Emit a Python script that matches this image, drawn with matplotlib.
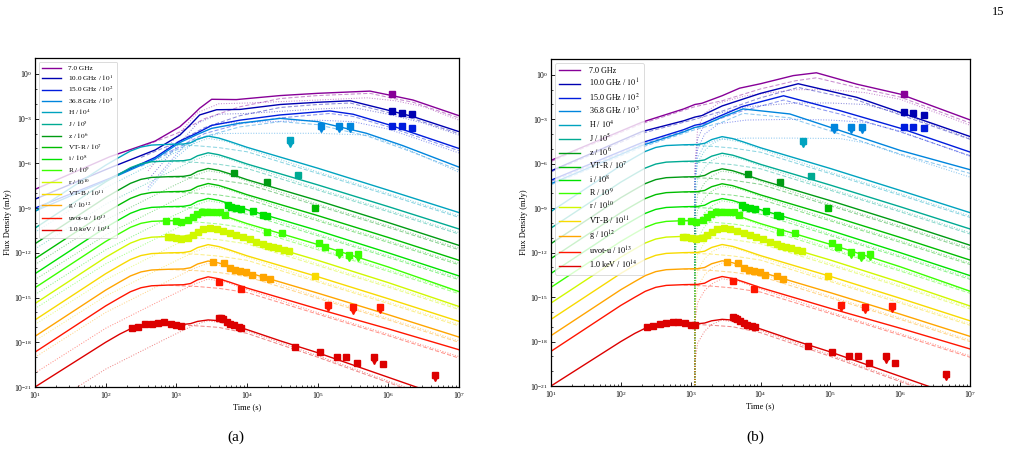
import numpy as np
import matplotlib
matplotlib.use('Agg')
import matplotlib.pyplot as plt
from matplotlib.transforms import ScaledTranslation
from matplotlib.ticker import NullFormatter, FixedLocator

plt.rcParams['font.family'] = ['Liberation Serif', 'DejaVu Serif']
plt.rcParams['mathtext.fontset'] = 'stix'

# ---------------- legend labels / band keys ----------------
band_keys = ['7.0', '10.0', '15.0', '36.8', 'H', 'J', 'z', 'VTR', 'i', 'R', 'r', 'VTB', 'g', 'u', 'keV']
band_labels = ['7.0 GHz', r'10.0 GHz / $10^{1}$', r'15.0 GHz / $10^{2}$', r'36.8 GHz / $10^{3}$',
               r'H / $10^{4}$', r'J / $10^{5}$', r'z / $10^{6}$', r'VT-R / $10^{7}$',
               r'i / $10^{8}$', r'R / $10^{9}$', r'r / $10^{10}$', r'VT-B / $10^{11}$',
               r'g / $10^{12}$', r'uvot-u / $10^{13}$', r'1.0 keV / $10^{14}$']

# ---------------- model curves (log10 t [s], log10 F [mJy]) ----------------
# optical / X-ray total model (same in both panels)
T_OPT = [1.0, 1.5, 2.0, 2.2, 2.35, 2.5, 2.65, 2.9, 3.1, 3.2, 3.3, 3.45, 3.6, 3.75, 4.0, 4.5, 5.0, 6.0, 7.0]
solid_H = [-9.22, -7.67, -6.12, -5.57, -5.17, -4.90, -4.77, -4.72, -4.70, -4.62, -4.37, -4.17, -4.30, -4.52, -4.92, -5.62, -6.32, -7.80, -9.30]
solid_J = [-10.34, -8.79, -7.24, -6.69, -6.29, -6.02, -5.89, -5.84, -5.82, -5.74, -5.49, -5.29, -5.42, -5.64, -6.04, -6.74, -7.44, -8.90, -10.40]
solid_z = [-11.39, -9.84, -8.29, -7.74, -7.34, -7.07, -6.94, -6.89, -6.87, -6.79, -6.54, -6.34, -6.47, -6.69, -7.09, -7.79, -8.49, -9.97, -11.50]
solid_VTR = [-12.40, -10.85, -9.30, -8.75, -8.35, -8.08, -7.95, -7.90, -7.88, -7.80, -7.55, -7.35, -7.48, -7.70, -8.10, -8.80, -9.50, -10.97, -12.50]
solid_i = [-13.40, -11.85, -10.30, -9.75, -9.35, -9.08, -8.95, -8.90, -8.88, -8.80, -8.55, -8.35, -8.48, -8.70, -9.10, -9.80, -10.50, -12.00, -13.55]
solid_R = [-14.34, -12.79, -11.24, -10.69, -10.29, -10.02, -9.89, -9.84, -9.82, -9.74, -9.49, -9.29, -9.42, -9.64, -10.04, -10.74, -11.44, -12.95, -14.60]
solid_r = [-15.40, -13.85, -12.30, -11.75, -11.35, -11.08, -10.95, -10.90, -10.88, -10.80, -10.55, -10.35, -10.48, -10.70, -11.10, -11.80, -12.50, -14.00, -15.60]
solid_VTB = [-16.50, -14.95, -13.40, -12.85, -12.45, -12.18, -12.05, -12.00, -11.98, -11.90, -11.65, -11.45, -11.58, -11.80, -12.20, -12.90, -13.60, -15.08, -16.60]
solid_g = [-17.60, -16.05, -14.50, -13.95, -13.55, -13.28, -13.15, -13.10, -13.08, -13.00, -12.75, -12.55, -12.68, -12.90, -13.30, -14.00, -14.70, -16.15, -17.65]
solid_u = [-18.66, -17.11, -15.56, -15.01, -14.61, -14.34, -14.21, -14.16, -14.14, -14.06, -13.81, -13.61, -13.74, -13.96, -14.36, -15.06, -15.76, -17.10, -18.50]
solid_keV = [-21.00, -19.50, -18.00, -17.45, -17.10, -16.90, -16.80, -16.78, -16.80, -16.75, -16.60, -16.50, -16.55, -16.80, -17.15, -17.95, -18.70, -20.35, -22.00]

# forward-shock (dashed) components, optical / X-ray
T_DASH = [2.9, 3.3, 3.6, 4.0, 5.0, 6.0, 7.0]
dash_H = [-4.74, -4.82, -4.94, -5.22, -6.67, -8.12, -9.62]
dash_J = [-5.86, -5.94, -6.06, -6.34, -7.79, -9.24, -10.74]
dash_z = [-6.91, -6.99, -7.11, -7.39, -8.84, -10.29, -11.79]
dash_VTR = [-7.92, -8.00, -8.12, -8.40, -9.85, -11.30, -12.80]
dash_i = [-8.92, -9.00, -9.12, -9.40, -10.85, -12.30, -13.80]
dash_R = [-9.86, -9.94, -10.06, -10.34, -11.79, -13.24, -14.74]
dash_r = [-10.92, -11.00, -11.12, -11.40, -12.85, -14.30, -15.80]
dash_VTB = [-12.02, -12.10, -12.22, -12.50, -13.95, -15.40, -16.90]
dash_g = [-13.12, -13.20, -13.32, -13.60, -15.05, -16.50, -18.00]
dash_u = [-14.18, -14.26, -14.38, -14.66, -16.11, -17.56, -19.06]
dash_keV = [-16.80, -16.90, -17.00, -17.40, -19.00, -20.70, -22.40]

# reverse-shock (dotted) components, panel (a)
T_DOT_A = [1.0, 2.0, 2.9, 3.25, 3.45, 3.7, 4.0, 5.0, 6.0, 7.0]
dotA_H = [-10.62, -7.62, -5.47, -4.67, -4.32, -4.52, -5.02, -6.57, -8.02, -9.52]
dotA_J = [-11.74, -8.74, -6.59, -5.79, -5.44, -5.64, -6.14, -7.69, -9.14, -10.64]
dotA_z = [-12.79, -9.79, -7.64, -6.84, -6.49, -6.69, -7.19, -8.74, -10.19, -11.69]
dotA_VTR = [-13.80, -10.80, -8.65, -7.85, -7.50, -7.70, -8.20, -9.75, -11.20, -12.70]
dotA_i = [-14.80, -11.80, -9.65, -8.85, -8.50, -8.70, -9.20, -10.75, -12.20, -13.70]
dotA_R = [-15.74, -12.74, -10.59, -9.79, -9.44, -9.64, -10.14, -11.69, -13.14, -14.64]
dotA_r = [-16.80, -13.80, -11.65, -10.85, -10.50, -10.70, -11.20, -12.75, -14.20, -15.70]
dotA_VTB = [-17.90, -14.90, -12.75, -11.95, -11.60, -11.80, -12.30, -13.85, -15.30, -16.80]
dotA_g = [-19.00, -16.00, -13.85, -13.05, -12.70, -12.90, -13.40, -14.95, -16.40, -17.90]
dotA_u = [-20.06, -17.06, -14.91, -14.11, -13.76, -13.96, -14.46, -16.01, -17.46, -18.96]
dotA_keV = [-22.80, -19.80, -17.65, -16.85, -16.55, -16.75, -17.25, -18.90, -20.60, -22.30]

# reverse-shock (dotted) components, panel (b): switched on at ~1.15e3 s
T_DOT_B = [3.06, 3.062, 3.1, 3.2, 3.3, 3.45, 3.7, 4.0, 5.0, 6.0, 7.0]
dotB_H = [-22, -7.22, -5.92, -5.12, -4.67, -4.32, -4.52, -5.02, -6.57, -8.02, -9.52]
dotB_J = [-22, -8.34, -7.04, -6.24, -5.79, -5.44, -5.64, -6.14, -7.69, -9.14, -10.64]
dotB_z = [-22, -9.39, -8.09, -7.29, -6.84, -6.49, -6.69, -7.19, -8.74, -10.19, -11.69]
dotB_VTR = [-22, -10.40, -9.10, -8.30, -7.85, -7.50, -7.70, -8.20, -9.75, -11.20, -12.70]
dotB_i = [-22, -11.40, -10.10, -9.30, -8.85, -8.50, -8.70, -9.20, -10.75, -12.20, -13.70]
dotB_R = [-22, -12.34, -11.04, -10.24, -9.79, -9.44, -9.64, -10.14, -11.69, -13.14, -14.64]
dotB_r = [-22, -13.40, -12.10, -11.30, -10.85, -10.50, -10.70, -11.20, -12.75, -14.20, -15.70]
dotB_VTB = [-22, -14.50, -13.20, -12.40, -11.95, -11.60, -11.80, -12.30, -13.85, -15.30, -16.80]
dotB_g = [-22, -15.60, -14.30, -13.50, -13.05, -12.70, -12.90, -13.40, -14.95, -16.40, -17.90]
dotB_u = [-22, -16.66, -15.36, -14.56, -14.11, -13.76, -13.96, -14.46, -16.01, -17.46, -18.96]
dotB_keV = [-22, -19.40, -18.10, -17.30, -16.85, -16.55, -16.75, -17.25, -18.90, -20.60, -22.30]

# radio, panel (a): total, dashed, dotted
r7a = ([1.0, 2.06, 2.7, 3.05, 3.2, 3.33, 3.5, 3.85, 4.47, 5.0, 5.74, 6.05, 6.35, 7.0],
       [-7.74, -5.55, -4.5, -3.54, -2.9, -2.3, -1.7, -1.72, -1.45, -1.3, -1.15, -1.45, -1.75, -2.8])
r10a = ([1.0, 2.06, 2.7, 3.05, 3.2, 3.33, 3.57, 3.9, 4.47, 5.0, 5.46, 5.97, 6.35, 7.0],
        [-8.4, -6.3, -5.1, -4.1, -3.4, -2.75, -2.4, -2.38, -2.05, -1.9, -1.8, -2.4, -2.86, -3.87])
r15a = ([1.0, 2.06, 2.7, 3.05, 3.3, 3.5, 3.9, 4.47, 5.17, 5.5, 6.0, 6.5, 7.0],
        [-9.0, -7.0, -5.6, -4.5, -3.95, -3.45, -3.1, -2.75, -2.48, -2.7, -3.4, -4.2, -5.0])
r37a = ([1.0, 2.06, 2.7, 3.05, 3.3, 3.5, 3.9, 4.47, 5.0, 5.69, 6.2, 7.0],
        [-9.2, -7.05, -5.7, -4.6, -4.05, -3.65, -3.3, -2.98, -3.2, -3.98, -4.8, -6.25])
r7a_dash = ([2.5, 3.0, 3.4, 3.9, 4.47, 5.0, 5.74, 6.05, 6.35, 7.0],
            [-4.9, -4.0, -3.0, -2.2, -1.65, -1.45, -1.3, -1.62, -1.9, -2.95])
r10a_dash = ([2.5, 3.0, 3.4, 3.9, 4.47, 5.0, 5.46, 5.97, 6.35, 7.0],
             [-5.6, -4.6, -3.6, -2.8, -2.25, -2.05, -1.95, -2.55, -3.0, -4.0])
r15a_dash = ([2.5, 3.0, 3.4, 3.9, 4.47, 5.17, 5.5, 6.0, 6.5, 7.0],
             [-6.1, -5.0, -4.0, -3.35, -2.95, -2.65, -2.85, -3.55, -4.35, -5.15])
r37a_dash = ([2.5, 3.0, 3.4, 3.9, 4.47, 5.0, 5.69, 6.2, 7.0],
             [-6.2, -5.1, -4.2, -3.55, -3.2, -3.4, -4.15, -5.0, -6.45])
r7a_dot = ([2.6, 3.0, 3.3, 3.6, 4.0, 5.0, 5.7, 6.1, 6.5, 7.0],
           [-6.5, -4.2, -2.6, -2.0, -1.95, -1.75, -1.6, -1.8, -2.2, -3.1])
r10a_dot = ([2.6, 3.0, 3.3, 3.6, 4.0, 5.0, 5.5, 6.0, 6.5, 7.0],
            [-7.1, -4.9, -3.3, -2.7, -2.65, -2.35, -2.25, -2.7, -3.3, -4.1])
r15a_dot = ([2.6, 3.0, 3.3, 3.6, 4.0, 5.0, 5.5, 6.0, 6.5, 7.0],
            [-7.6, -5.4, -3.9, -3.3, -3.25, -3.1, -3.2, -3.7, -4.5, -5.3])
r37a_dot = ([2.6, 3.0, 3.3, 3.6, 4.0, 5.0, 5.7, 6.2, 7.0],
            [-7.8, -5.6, -4.4, -4.0, -3.98, -3.98, -4.1, -4.9, -6.6])

# radio, panel (b)
r7b = ([1.0, 2.3, 2.9, 3.06, 3.16, 3.45, 3.7, 4.0, 4.47, 4.8, 5.38, 6.0, 7.0],
       [-5.77, -3.2, -2.3, -2.0, -1.92, -1.41, -0.9, -0.6, -0.05, 0.14, -0.63, -1.3, -3.04])
r10b = ([1.0, 2.3, 2.9, 3.06, 3.16, 3.45, 4.0, 4.54, 5.38, 6.0, 7.0],
        [-6.48, -3.83, -3.1, -2.85, -2.75, -2.1, -1.25, -0.6, -1.52, -2.53, -4.16])
r15b = ([1.0, 2.3, 2.9, 3.06, 3.16, 3.73, 4.33, 5.14, 6.0, 7.0],
        [-7.11, -4.58, -3.7, -3.4, -3.31, -2.15, -1.41, -2.42, -3.6, -5.21])
r37b = ([1.0, 2.3, 2.9, 3.06, 3.16, 3.45, 3.75, 4.42, 5.14, 6.0, 7.0],
        [-7.34, -4.77, -3.85, -3.55, -3.47, -2.85, -2.3, -2.64, -3.76, -5.1, -6.4])
r7b_dash = ([1.0, 2.3, 3.06, 3.45, 4.0, 4.5, 4.8, 5.38, 6.0, 7.0],
            [-5.85, -3.3, -2.15, -1.75, -0.95, -0.4, -0.2, -0.85, -1.5, -3.25])
r10b_dash = ([1.0, 2.3, 3.06, 3.45, 4.0, 4.54, 5.38, 6.0, 7.0],
             [-6.55, -3.95, -3.0, -2.45, -1.55, -0.85, -1.7, -2.7, -4.35])
r15b_dash = ([1.0, 2.3, 3.06, 3.73, 4.33, 5.14, 6.0, 7.0],
             [-7.2, -4.7, -3.55, -2.45, -1.7, -2.65, -3.85, -5.45])
r37b_dash = ([1.0, 2.3, 3.06, 3.45, 3.75, 4.42, 5.14, 6.0, 7.0],
             [-7.42, -4.88, -3.7, -3.2, -2.6, -2.9, -4.0, -5.35, -6.65])
r7b_dot = ([3.06, 3.062, 3.1, 3.2, 3.4, 3.8, 4.5, 5.0, 5.5, 6.0, 7.0],
           [-22, -6.0, -3.6, -2.6, -1.9, -1.4, -1.0, -1.0, -1.2, -1.65, -3.4])
r10b_dot = ([3.06, 3.062, 3.1, 3.2, 3.4, 3.8, 4.5, 5.0, 5.5, 6.0, 7.0],
            [-22, -6.5, -4.3, -3.3, -2.6, -2.15, -1.9, -1.9, -2.0, -2.6, -4.3])
r15b_dot = ([3.06, 3.062, 3.1, 3.2, 3.4, 3.8, 4.5, 5.0, 5.5, 6.0, 7.0],
            [-22, -7.0, -5.0, -4.0, -3.3, -3.05, -3.0, -3.05, -3.2, -3.8, -5.5])
r37b_dot = ([3.06, 3.062, 3.1, 3.2, 3.4, 3.8, 4.5, 5.14, 5.5, 6.0, 7.0],
            [-22, -7.5, -5.6, -4.7, -4.35, -4.27, -4.27, -4.3, -4.6, -5.4, -6.9])

# ---------------- observations (log10 t, log10 F) ----------------
obs_7 = ([6.05], [-1.32])
obs_10 = ([6.05, 6.19, 6.34], [-2.5, -2.6, -2.72])
obs_15 = ([6.05, 6.19, 6.34], [-3.5, -3.5, -3.6])
ul_37 = ([5.05, 5.30, 5.46], [-3.5, -3.5, -3.5])
ul_H = ([4.61], [-4.45])
obs_J = ([4.72], [-6.8])
obs_z = ([3.82, 4.28], [-6.67, -7.22])
obs_VTR = ([4.96], [-9.0])
obs_i = ([3.73, 3.78, 3.85, 3.92, 4.08, 4.23, 4.28],
         [-8.79, -8.9, -9.01, -9.06, -9.19, -9.46, -9.51])
obs_R = ([2.86, 3.0, 3.07, 3.17, 3.24, 3.29, 3.36, 3.43, 3.52, 3.62, 3.69, 4.28, 4.5, 5.02, 5.11],
         [-9.87, -9.85, -9.91, -9.8, -9.57, -9.42, -9.28, -9.24, -9.24, -9.28, -9.46, -10.58, -10.69, -11.32, -11.59])
ul_R = ([5.3, 5.44, 5.57], [-11.95, -12.15, -12.1])
obs_r = ([2.885, 2.93, 3.0, 3.07, 3.17, 3.24, 3.31, 3.38, 3.48, 3.57, 3.66, 3.76, 3.85, 3.94, 4.04, 4.13, 4.23, 4.30, 4.37, 4.44, 4.52, 4.6],
         [-10.92, -10.96, -11.03, -11.09, -11.03, -10.8, -10.58, -10.42, -10.35, -10.42, -10.54, -10.65, -10.8, -10.96, -11.09, -11.25, -11.41, -11.54, -11.63, -11.7, -11.8, -11.9])
obs_VTB = ([4.96], [-13.56])
obs_g = ([3.52, 3.68, 3.76, 3.83, 3.90, 3.99, 4.07, 4.23, 4.32],
         [-12.6, -12.7, -13.04, -13.15, -13.22, -13.31, -13.49, -13.6, -13.78])
obs_u = ([3.6, 3.91], [-13.94, -14.43])
ul_u = ([5.15, 5.5, 5.88], [-15.5, -15.66, -15.6])
obs_keV = ([2.37, 2.46, 2.56, 2.65, 2.74, 2.82, 2.92, 3.0, 3.06, 3.6, 3.63, 3.66, 3.71, 3.76, 3.81, 3.88, 3.92,
            4.68, 5.03, 5.27, 5.4, 5.55, 5.92],
           [-17.02, -16.96, -16.8, -16.78, -16.69, -16.66, -16.78, -16.85, -16.89, -16.35, -16.4, -16.46, -16.62, -16.78,
            -16.87, -16.96, -17.02, -18.3, -18.68, -18.99, -18.97, -19.42, -19.48])
ul_keV = ([5.8, 6.66], [-19.0, -20.2])

# ---------------- assemble ----------------
colors = plt.cm.nipy_spectral(np.linspace(0.1, 0.9, 15))
col = dict(zip(band_keys, colors))
opt_keys = ['H', 'J', 'z', 'VTR', 'i', 'R', 'r', 'VTB', 'g', 'u', 'keV']
opt_solid = dict(zip(opt_keys, [solid_H, solid_J, solid_z, solid_VTR, solid_i, solid_R, solid_r,
                                solid_VTB, solid_g, solid_u, solid_keV]))
opt_dash = dict(zip(opt_keys, [dash_H, dash_J, dash_z, dash_VTR, dash_i, dash_R, dash_r,
                               dash_VTB, dash_g, dash_u, dash_keV]))
opt_dotA = dict(zip(opt_keys, [dotA_H, dotA_J, dotA_z, dotA_VTR, dotA_i, dotA_R, dotA_r,
                               dotA_VTB, dotA_g, dotA_u, dotA_keV]))
opt_dotB = dict(zip(opt_keys, [dotB_H, dotB_J, dotB_z, dotB_VTR, dotB_i, dotB_R, dotB_r,
                               dotB_VTB, dotB_g, dotB_u, dotB_keV]))
radio_keys = ['7.0', '10.0', '15.0', '36.8']
radio_a = dict(zip(radio_keys, [r7a, r10a, r15a, r37a]))
radio_a_dash = dict(zip(radio_keys, [r7a_dash, r10a_dash, r15a_dash, r37a_dash]))
radio_a_dot = dict(zip(radio_keys, [r7a_dot, r10a_dot, r15a_dot, r37a_dot]))
radio_b = dict(zip(radio_keys, [r7b, r10b, r15b, r37b]))
radio_b_dash = dict(zip(radio_keys, [r7b_dash, r10b_dash, r15b_dash, r37b_dash]))
radio_b_dot = dict(zip(radio_keys, [r7b_dot, r10b_dot, r15b_dot, r37b_dot]))
obs = {'7.0': obs_7, '10.0': obs_10, '15.0': obs_15, 'J': obs_J, 'z': obs_z, 'VTR': obs_VTR,
       'i': obs_i, 'R': obs_R, 'r': obs_r, 'VTB': obs_VTB, 'g': obs_g, 'u': obs_u, 'keV': obs_keV}
uls = {'36.8': ul_37, 'H': ul_H, 'R': ul_R, 'u': ul_u, 'keV': ul_keV}


def P(tl, fl):
    return 10.0 ** np.asarray(tl, float), 10.0 ** np.asarray(fl, float)


fig = plt.figure(figsize=(10.11, 4.73), dpi=100)
ax_a = fig.add_axes([35 / 1011, 1 - 387 / 473, 424 / 1011, 329 / 473])
ax_b = fig.add_axes([551 / 1011, 1 - 386 / 473, 419 / 1011, 327 / 473])

MS = 4.2


def draw(ax, panel, legend_fs):
    lw_c, al_c = 0.75, 0.45
    # components
    for k in radio_keys:
        dsh = radio_a_dash[k] if panel == 'a' else radio_b_dash[k]
        dot = radio_a_dot[k] if panel == 'a' else radio_b_dot[k]
        ax.plot(*P(*dsh), ls=(0, (4, 2)), lw=lw_c, color=col[k], alpha=al_c)
        ax.plot(*P(*dot), ls=(0, (1, 1.5)), lw=lw_c, color=col[k], alpha=al_c)
    for k in opt_keys:
        ax.plot(*P(T_DASH, opt_dash[k]), ls=(0, (4, 2)), lw=lw_c, color=col[k], alpha=al_c)
        dot = opt_dotA[k] if panel == 'a' else opt_dotB[k]
        tdot = T_DOT_A if panel == 'a' else T_DOT_B
        ax.plot(*P(tdot, dot), ls=(0, (1, 1.5)), lw=lw_c, color=col[k], alpha=al_c)
    # totals
    handles = []
    for k, lab in zip(band_keys, band_labels):
        if k in radio_keys:
            tt, ff = radio_a[k] if panel == 'a' else radio_b[k]
        else:
            tt, ff = T_OPT, opt_solid[k]
        h, = ax.plot(*P(tt, ff), lw=1.0, color=col[k], label=lab)
        handles.append(h)
    # data
    for k, (tt, ff) in obs.items():
        ax.plot(*P(tt, ff), ls='none', marker='s', ms=MS, color=col[k], mec=col[k], zorder=5)
    down = ax.transData + ScaledTranslation(0, -2.4 / 72, fig.dpi_scale_trans)
    for k, (tt, ff) in uls.items():
        ax.plot(*P(tt, ff), ls='none', marker='s', ms=MS, color=col[k], zorder=5)
        ax.plot(*P(tt, ff), ls='none', marker='v', ms=MS, color=col[k], zorder=5, transform=down)
    ax.set_xscale('log')
    ax.set_yscale('log')
    ax.set_xlim(1e1, 1e7)
    ax.set_ylim(1e-21, 10 ** 1.07)
    ax.yaxis.set_major_locator(FixedLocator([10.0 ** e for e in range(-21, 1, 3)]))
    ax.yaxis.set_minor_locator(FixedLocator([10.0 ** e for e in range(-21, 1)]))
    ax.yaxis.set_minor_formatter(NullFormatter())
    ax.xaxis.set_major_locator(FixedLocator([10.0 ** e for e in range(1, 8)]))
    ax.xaxis.set_minor_locator(FixedLocator([m * 10.0 ** e for e in range(1, 7) for m in range(2, 10)]))
    ax.xaxis.set_minor_formatter(NullFormatter())
    ax.tick_params(which='both', direction='in', labelsize=5.5, pad=2)
    ax.tick_params(which='major', length=3, width=0.6)
    ax.tick_params(which='minor', length=1.6, width=0.5)
    for s in ax.spines.values():
        s.set_linewidth(0.9)
    ax.set_xlabel('Time (s)', fontsize=6, labelpad=2)
    ax.set_ylabel('Flux Density (mJy)', fontsize=6, labelpad=1.5)
    leg = ax.legend(handles=handles, loc='upper left', fontsize=legend_fs, framealpha=0.8,
                    edgecolor='#cccccc', fancybox=True, handlelength=2.6, labelspacing=0.25,
                    borderpad=0.5, handletextpad=1.0)
    leg.get_frame().set_linewidth(0.6)


draw(ax_a, 'a', 5.2)
draw(ax_b, 'b', 5.9)

fig.text(236 / 1011, 1 - 437 / 473, '(a)', fontsize=11, ha='center', va='center')
fig.text(755 / 1011, 1 - 437 / 473, '(b)', fontsize=11, ha='center', va='center')
fig.text(1004 / 1011, 1 - 12 / 473, '15', fontsize=9, ha='right', va='center')

fig.savefig('out.png', dpi=100)
